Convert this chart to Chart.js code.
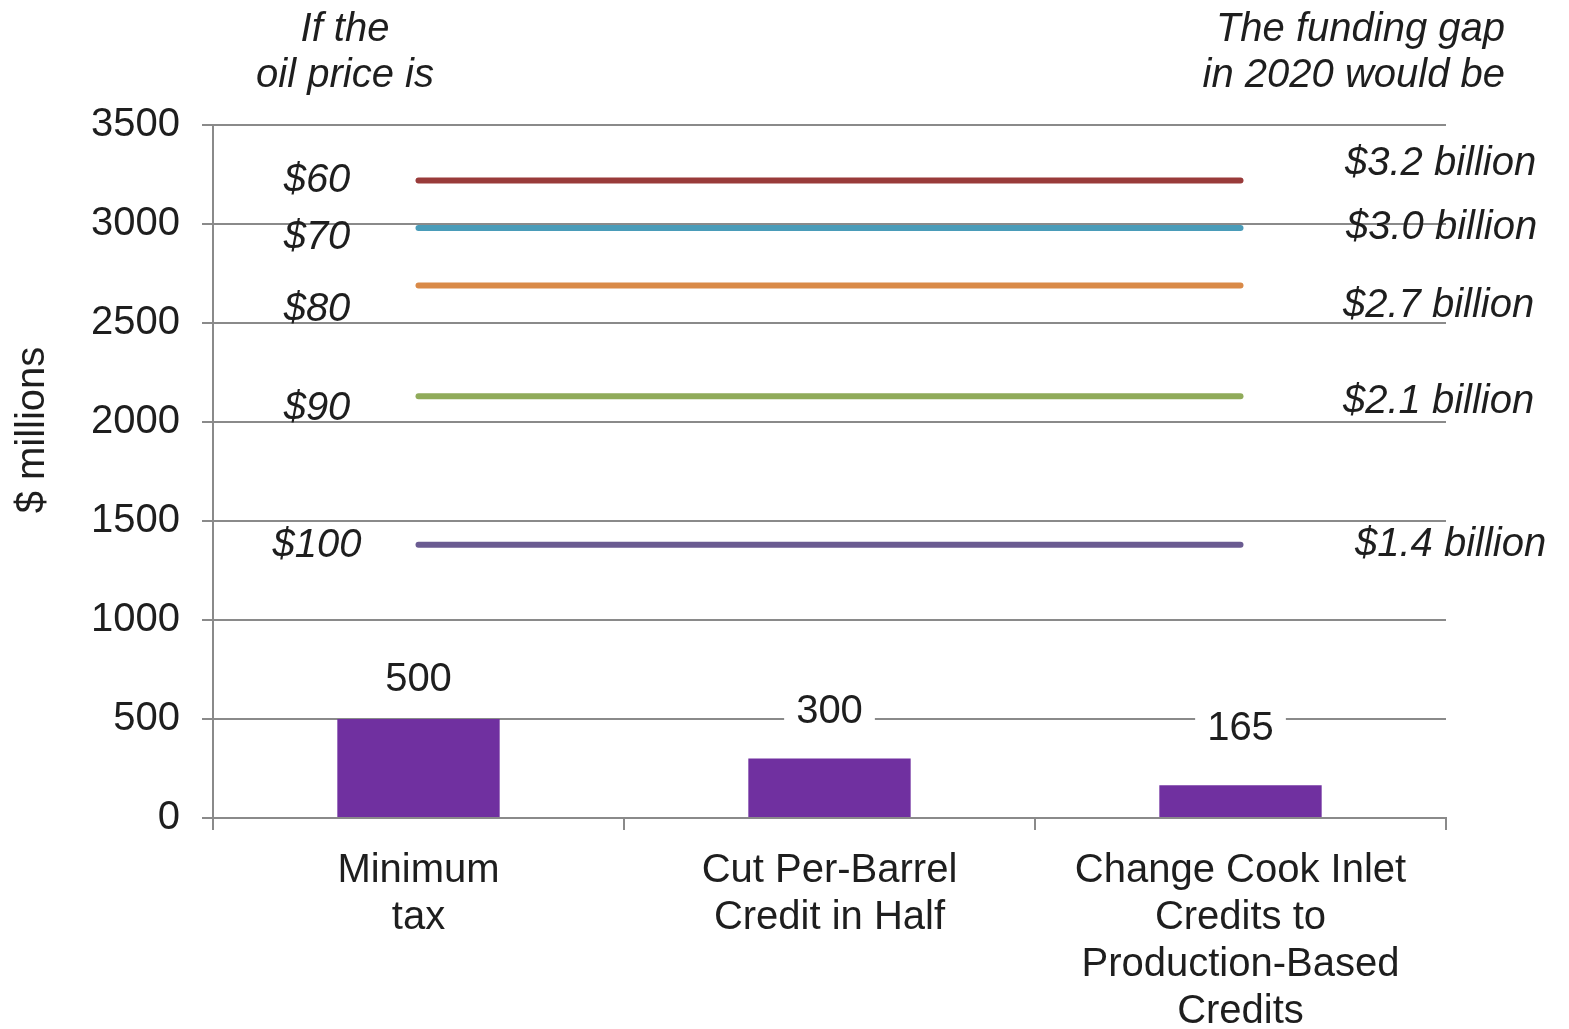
<!DOCTYPE html>
<html>
<head>
<meta charset="utf-8">
<script src="https://cdn.jsdelivr.net/npm/chart.js@4/dist/chart.umd.min.js"></script>
<style>
  html, body { margin: 0; padding: 0; background: #fff; }
  #wrap { width: 1569px; height: 1029px; }
</style>
</head>
<body>
<div id="wrap"><canvas id="c" width="1569" height="1029"></canvas></div>
<script>
// ---- data ----
const categories = [
  ["Minimum", "tax"],
  ["Cut Per-Barrel", "Credit in Half"],
  ["Change Cook Inlet", "Credits to", "Production-Based", "Credits"]
];
const barValues = [500, 300, 165];
const barLabels = ["500", "300", "165"];

const oilPrices = ["$60", "$70", "$80", "$90", "$100"];
const gapValues = [3220, 2980, 2690, 2130, 1380];
const gapLabels = ["$3.2 billion", "$3.0 billion", "$2.7 billion", "$2.1 billion", "$1.4 billion"];

const yTicksMin = 0, yTicksMax = 3500, yStep = 500;

// ---- styles / layout ----
const lineColors = ["#993B3A", "#4A9CB9", "#D98A48", "#90AB5A", "#6A5B91"];
const barColor = "#7030A0";
const gridColor = "#8a8a8a";
const textColor = "#1e1e1e";
const FONT = "'Liberation Sans', Arial, sans-serif";
const labelRise = [39, 47, 56];           // px above bar top to label centre
const leftLabelDy = [0, 10, 24, 13, 1];   // px offset of left labels from line
const rightLabelDy = [-17, 0, 20, 6, 0];  // px offset of right labels from line
const rightLabelX = [1345, 1346, 1343, 1343, 1355];

const datasets = [{
  type: 'bar',
  data: barValues,
  backgroundColor: barColor,
  categoryPercentage: 1,
  barPercentage: 0.395,
  order: 2
}];
gapValues.forEach((v, i) => {
  datasets.push({
    type: 'line',
    data: categories.map(() => v),
    borderColor: lineColors[i],
    borderWidth: 6,
    borderCapStyle: 'round',
    pointRadius: 0,
    fill: false,
    order: 1
  });
});

const annot = {
  id: 'annot',
  afterDraw(chart) {
    const ctx = chart.ctx;
    const y = chart.scales.y;
    ctx.save();
    ctx.fillStyle = textColor;
    // headers
    ctx.font = "italic 40px " + FONT;
    ctx.textAlign = 'center';
    ctx.textBaseline = 'alphabetic';
    ctx.fillText("If the", 345, 41);
    ctx.fillText("oil price is", 345, 87);
    ctx.textAlign = 'right';
    ctx.fillText("The funding gap", 1505, 41);
    ctx.fillText("in 2020 would be", 1505, 87);

    // line labels
    ctx.textBaseline = 'middle';
    gapValues.forEach((v, i) => {
      const py = y.getPixelForValue(v);
      ctx.textAlign = 'center';
      ctx.fillText(oilPrices[i], 317, py + leftLabelDy[i]);
      ctx.textAlign = 'left';
      ctx.fillText(gapLabels[i], rightLabelX[i], py + rightLabelDy[i]);
    });

    // bar value labels
    ctx.font = "40px " + FONT;
    ctx.textAlign = 'center';
    const meta = chart.getDatasetMeta(0);
    meta.data.forEach((bar, i) => {
      const cy = bar.y - labelRise[i];
      const w = ctx.measureText(barLabels[i]).width;
      ctx.fillStyle = '#fff';
      ctx.fillRect(bar.x - w / 2 - 12, cy - 20, w + 24, 40);
      ctx.fillStyle = textColor;
      ctx.fillText(barLabels[i], bar.x, cy);
    });

    // y axis title
    ctx.save();
    ctx.translate(33, 430);
    ctx.rotate(-Math.PI / 2);
    ctx.textAlign = 'center';
    ctx.textBaseline = 'middle';
    ctx.font = "40px " + FONT;
    ctx.fillText("$ millions", 0, 0);
    ctx.restore();
    ctx.restore();
  }
};

new Chart(document.getElementById('c'), {
  type: 'bar',
  data: { labels: categories, datasets },
  plugins: [annot],
  options: {
    responsive: false,
    animation: false,
    devicePixelRatio: 1,
    layout: { padding: { top: 125, right: 123, left: 0, bottom: 0 } },
    plugins: { legend: { display: false }, tooltip: { enabled: false } },
    scales: {
      y: {
        min: yTicksMin, max: yTicksMax,
        ticks: { stepSize: yStep, color: textColor, font: { family: FONT, size: 40 }, padding: 22,
                 callback: (v) => String(v) },
        grid: { color: gridColor, lineWidth: 2, tickLength: 11 },
        border: { display: true, color: gridColor, width: 2 },
        afterFit(s) { s.width = 213; }
      },
      x: {
        ticks: { color: textColor, font: { family: FONT, size: 40, lineHeight: 1.18 }, padding: 17, maxRotation: 0, autoSkip: false },
        grid: { display: true, drawOnChartArea: false, drawTicks: true, tickLength: 12, color: gridColor, lineWidth: 2, offset: true },
        border: { display: true, color: gridColor, width: 2 },
        afterFit(s) { s.height = 211; }
      }
    }
  }
});
</script>
</body>
</html>
